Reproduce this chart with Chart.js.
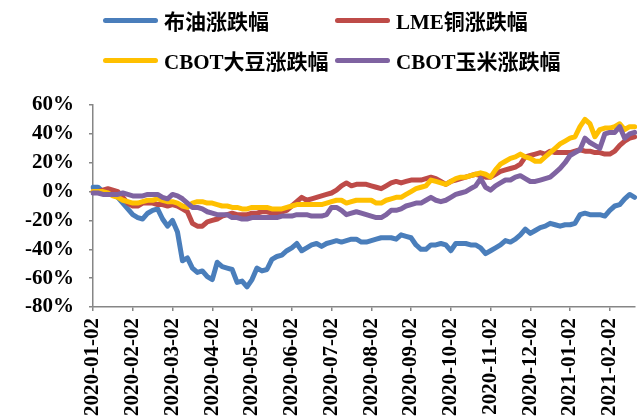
<!DOCTYPE html>
<html>
<head>
<meta charset="utf-8">
<script src="https://cdn.jsdelivr.net/npm/chart.js@4.4.1/dist/chart.umd.min.js"></script>
<style>
  body { margin: 0; background: #fff; }
  #box { position: relative; width: 642px; height: 419px; }
  #legend { position: absolute; left: 0; top: 0; width: 642px; height: 80px; }
  .item { position: absolute; display: flex; align-items: center; height: 24px;
          font: bold 21px "Liberation Serif", "Noto Sans CJK SC", serif; color: #000; white-space: nowrap; }
  .item i { display: inline-block; width: 55px; height: 5px; border-radius: 3px; margin-right: 6px; }
</style>
</head>
<body>
<div id="box">
  <canvas id="grafico" width="642" height="419"></canvas>
  <div id="legend"></div>
</div>
<script>
// month tick labels, 8 samples per month
const months = ['2020-01-02', '2020-02-02', '2020-03-02', '2020-04-02', '2020-05-02', '2020-06-02', '2020-07-02',
    '2020-08-02', '2020-09-02', '2020-10-02', '2020-11-02', '2020-12-02', '2021-01-02', '2021-02-02'];
const perMonth = 8;

const names = ['布油涨跌幅', 'LME铜涨跌幅', 'CBOT大豆涨跌幅', 'CBOT玉米涨跌幅'];
const colors = ['#4a7ebb', '#be4b48', '#ffc000', '#7f63a1'];

// % change
const brent = [3, 3, 0, -1, -2, -4, -8, -12, -16, -18,
    -19, -15, -13, -12, -19, -24, -20, -28, -48, -46,
    -53, -56, -55, -59, -61, -49, -52, -53, -54, -63,
    -62, -66, -61, -53, -55, -54, -47, -45, -44, -41,
    -39, -36, -41, -39, -37, -36, -38, -36, -35, -34,
    -35, -34, -33, -33, -35, -35, -34, -33, -32, -32,
    -32, -33, -30, -31, -32, -37, -40, -40, -37, -37,
    -36, -37, -41, -36, -36, -36, -37, -37, -39, -43,
    -41, -39, -37, -34, -35, -33, -30, -26, -29, -27,
    -25, -24, -22, -23, -24, -23, -23, -22, -16, -15,
    -16, -16, -16, -17, -13, -10, -9, -5, -2, -4];
const copper = [0, 0, 1, 2, 1, 0, -4, -8, -10, -10,
    -8, -8, -8, -9, -9, -10, -9, -10, -12, -14,
    -22, -24, -24, -21, -20, -19, -17, -16, -15, -16,
    -16, -16, -15, -15, -14, -14, -15, -15, -14, -13,
    -10, -7, -4, -6, -5, -4, -3, -2, -1, 1,
    4, 6, 4, 5, 5, 5, 4, 3, 2, 4,
    6, 7, 6, 7, 8, 8, 8, 9, 10, 9,
    7, 5, 7, 8, 9, 10, 11, 12, 11, 10,
    10, 12, 14, 15, 16, 17, 19, 24, 25, 26,
    27, 26, 28, 27, 27, 27, 27, 28, 29, 28,
    28, 27, 27, 26, 26, 28, 32, 35, 37, 38];
const soybean = [0, 0, 0, -1, -3, -4, -6, -7, -8, -8,
    -7, -6, -6, -5, -6, -7, -7, -8, -10, -11,
    -8, -7, -7, -8, -8, -9, -10, -10, -11, -11,
    -12, -12, -11, -11, -11, -11, -12, -12, -12, -11,
    -10, -9, -9, -9, -9, -9, -9, -8, -7, -6,
    -6, -8, -7, -6, -6, -6, -6, -8, -8, -6,
    -5, -4, -4, -2, 0, 2, 3, 4, 8, 7,
    6, 5, 7, 9, 10, 10, 11, 12, 13, 12,
    10, 15, 19, 21, 23, 24, 26, 24, 23, 21,
    21, 24, 27, 30, 33, 35, 37, 38, 45, 50,
    47, 38, 43, 44, 44, 45, 47, 43, 45, 45];
const corn = [-1, -1, -2, -2, -2, -2, -1, -2, -3, -3,
    -3, -2, -2, -2, -4, -5, -2, -3, -5, -8,
    -11, -11, -12, -14, -15, -16, -16, -16, -18, -18,
    -19, -19, -18, -18, -18, -18, -18, -18, -17, -17,
    -17, -16, -16, -16, -17, -17, -17, -16, -11, -11,
    -13, -16, -15, -14, -15, -16, -17, -18, -18, -16,
    -13, -13, -12, -10, -9, -8, -8, -6, -4, -6,
    -7, -6, -4, -2, -1, 0, 2, 4, 9, 3,
    1, 4, 6, 8, 8, 10, 11, 9, 7, 7,
    8, 9, 10, 13, 16, 20, 25, 27, 29, 37,
    34, 32, 30, 40, 41, 41, 45, 37, 40, 41];

const labels = brent.map((v, i) => i % perMonth === 0 ? months[i / perMonth] : '');
const series = [brent, copper, soybean, corn];

// legend, two columns
const legend = document.getElementById('legend');
names.forEach((n, k) => {
    const d = document.createElement('div');
    d.className = 'item';
    d.style.left = (k % 2 === 0 ? 103 : 335) + 'px';
    d.style.top = (k < 2 ? 8 : 48) + 'px';
    d.innerHTML = '<i style="background:' + colors[k] + '"></i>' + n;
    legend.appendChild(d);
});

const eixo = '#868686';
const fonte = { family: '"Liberation Serif", "Noto Sans CJK SC", serif', size: 21, weight: 'bold' };

new Chart(document.getElementById('grafico'), {
    type: 'line',
    data: {
        labels: labels,
        datasets: series.map((s, k) => ({
            label: names[k],
            data: s,
            borderColor: colors[k],
            backgroundColor: colors[k],
            borderWidth: 5,
            pointRadius: 0,
            tension: 0,
            borderJoinStyle: 'round',
            borderCapStyle: 'round',
            order: 4 - k,
        })),
    },
    options: {
        responsive: false,
        animation: false,
        layout: { padding: { top: 105, right: 0, left: 0, bottom: 0 } },
        plugins: {
            legend: { display: false },
            tooltip: { enabled: false },
        },
        scales: {
            x: {
                afterFit: s => { s.height = 112; },
                border: { color: eixo, width: 1.5 },
                grid: { drawOnChartArea: false, drawTicks: true, tickLength: 4, color: eixo, lineWidth: 1.5 },
                ticks: {
                    autoSkip: false,
                    minRotation: 90,
                    maxRotation: 90,
                    padding: 7,
                    color: '#000',
                    font: fonte,
                    callback: function (v) {
                        const l = this.getLabelForValue(v);
                        return l === '' ? null : l;
                    },
                },
            },
            y: {
                min: -80,
                max: 60,
                afterFit: s => { s.width = 93; },
                border: { color: eixo, width: 1.5 },
                grid: { drawOnChartArea: false, drawTicks: true, tickLength: 4, color: eixo, lineWidth: 1.5 },
                ticks: {
                    stepSize: 20,
                    padding: 15,
                    color: '#000',
                    font: fonte,
                    callback: v => v + '%',
                },
            },
        },
    },
});
</script>
</body>
</html>
